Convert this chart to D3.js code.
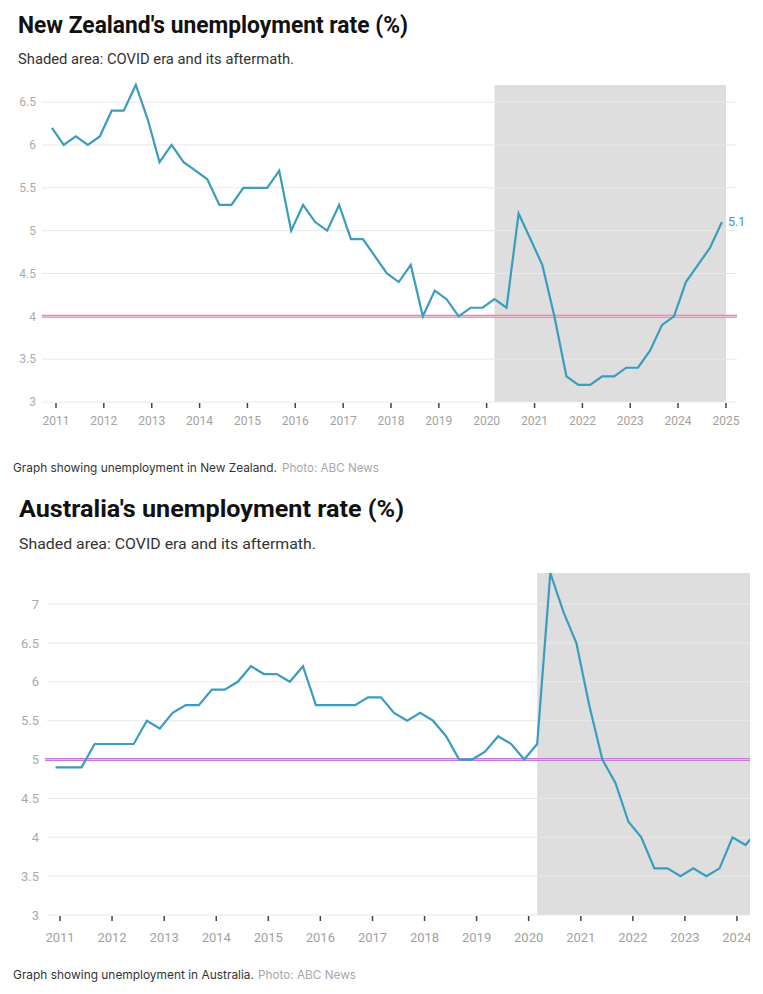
<!DOCTYPE html>
<html>
<head>
<meta charset="utf-8">
<script src="https://cdn.jsdelivr.net/npm/d3@7"></script>
<style>
  html, body { margin: 0; padding: 0; background: #fff; }
  svg { display: block; }
</style>
</head>
<body>
<svg id="chart" width="763" height="994"></svg>
<script>
// ---------- DATA ----------
// Quarterly dates: first quarter is Dec 2010, then Mar/Jun/Sep/Dec
const nzStart = [2010, 12];
const nzValues = [
  6.2,
  6.0, 6.1, 6.0, 6.1,
  6.4, 6.4, 6.7, 6.3,
  5.8, 6.0, 5.8, 5.7,
  5.6, 5.3, 5.3, 5.5,
  5.5, 5.5, 5.7, 5.0,
  5.3, 5.1, 5.0, 5.3,
  4.9, 4.9, 4.7, 4.5,
  4.4, 4.6, 4.0, 4.3,
  4.2, 4.0, 4.1, 4.1,
  4.2, 4.1, 5.2, 4.9,
  4.6, 4.0, 3.3, 3.2,
  3.2, 3.3, 3.3, 3.4,
  3.4, 3.6, 3.9, 4.0,
  4.4, 4.6, 4.8, 5.1
];
const auStart = [2010, 12];
const auValues = [
  4.9,
  4.9, 4.9, 5.2, 5.2,
  5.2, 5.2, 5.5, 5.4,
  5.6, 5.7, 5.7, 5.9,
  5.9, 6.0, 6.2, 6.1,
  6.1, 6.0, 6.2, 5.7,
  5.7, 5.7, 5.7, 5.8,
  5.8, 5.6, 5.5, 5.6,
  5.5, 5.3, 5.0, 5.0,
  5.1, 5.3, 5.2, 5.0,
  5.2, 7.4, 6.9, 6.5,
  5.7, 5.0, 4.7, 4.2,
  4.0, 3.6, 3.6, 3.5,
  3.6, 3.5, 3.6, 4.0,
  3.9, 4.1
];
const nzYTicks = [3, 3.5, 4, 4.5, 5, 5.5, 6, 6.5];
const auYTicks = [3, 3.5, 4, 4.5, 5, 5.5, 6, 6.5, 7];
const nzYears = [2011, 2012, 2013, 2014, 2015, 2016, 2017, 2018, 2019, 2020, 2021, 2022, 2023, 2024, 2025];
const auYears = [2011, 2012, 2013, 2014, 2015, 2016, 2017, 2018, 2019, 2020, 2021, 2022, 2023, 2024];
const nzXDomain = [2011, 2025];
const auXDomain = [2011, 2025];
const nzTarget = 4;
const auTarget = 5;
const covidStart = [2020, 3];
const covidEnd = [2025, 1];

function quarterly(start, values) {
  return values.map((v, i) => {
    const m = (start[1] - 1) + i * 3;
    return { date: new Date(start[0], m, 1), value: v };
  });
}

const svg = d3.select("#chart");
const FONT = "Roboto, 'Noto Sans', sans-serif";

function drawChart(cfg) {
  const g = svg.append("g");
  const clipId = cfg.id + "-clip";
  svg.append("defs").append("clipPath").attr("id", clipId)
    .append("rect").attr("x", 0).attr("y", cfg.top - 20).attr("width", cfg.clipRight).attr("height", cfg.bottom - cfg.top + 60);

  // titles
  g.append("text").attr("x", cfg.titleX).attr("y", cfg.titleY)
    .attr("font-family", FONT).attr("font-weight", 700).attr("font-size", cfg.titleSize)
    .attr("textLength", cfg.titleLen).attr("lengthAdjust", "spacingAndGlyphs")
    .attr("fill", "#111").text(cfg.title);
  g.append("text").attr("x", cfg.titleX).attr("y", cfg.subY)
    .attr("font-family", FONT).attr("font-size", cfg.subSize)
    .attr("textLength", cfg.subLen).attr("lengthAdjust", "spacingAndGlyphs")
    .attr("fill", "#333").text("Shaded area: COVID era and its aftermath.");

  const x = d3.scaleTime()
    .domain([new Date(cfg.xDomain[0], 0, 1), new Date(cfg.xDomain[1], 0, 1)])
    .range([cfg.x0, cfg.x1]);
  const y = d3.scaleLinear().domain(cfg.yDomain).range([cfg.bottom, cfg.top]);

  const plot = g.append("g").attr("clip-path", `url(#${clipId})`);

  // shaded area
  plot.append("rect")
    .attr("x", x(new Date(covidStart[0], covidStart[1] - 1, 1)))
    .attr("y", y(cfg.yDomain[1]))
    .attr("width", x(new Date(covidEnd[0], covidEnd[1] - 1, 1)) - x(new Date(covidStart[0], covidStart[1] - 1, 1)))
    .attr("height", y(cfg.yDomain[0]) - y(cfg.yDomain[1]))
    .attr("fill", "#dedede");

  // gridlines
  plot.append("g").selectAll("line").data(cfg.yTicks).join("line")
    .attr("x1", cfg.gridLeft).attr("x2", cfg.gridRight)
    .attr("y1", d => y(d)).attr("y2", d => y(d))
    .attr("stroke", "#e9e9e9").attr("stroke-width", 1);

  // y labels
  g.append("g").selectAll("text").data(cfg.yTicks).join("text")
    .attr("x", cfg.yLabelX).attr("y", d => y(d)).attr("dy", "0.35em")
    .attr("text-anchor", "end")
    .attr("font-family", FONT).attr("font-size", cfg.tickSize)
    .attr("fill", "#ababab").text(d => d3.format("")(d));

  // x axis ticks + labels
  const xt = g.append("g").attr("clip-path", `url(#${clipId})`);
  xt.selectAll("line").data(cfg.years).join("line")
    .attr("x1", d => x(new Date(d, 0, 1))).attr("x2", d => x(new Date(d, 0, 1)))
    .attr("y1", cfg.bottom + 1).attr("y2", cfg.bottom + 6)
    .attr("stroke", "#444").attr("stroke-width", 1.5);
  xt.selectAll("text").data(cfg.years).join("text")
    .attr("x", d => x(new Date(d, 0, 1))).attr("y", cfg.xLabelY)
    .attr("text-anchor", "middle")
    .attr("font-family", FONT).attr("font-size", cfg.tickSize)
    .attr("fill", "#a2a2a2").text(d => d);

  // target line
  plot.append("line")
    .attr("x1", cfg.refLeft).attr("x2", cfg.refRight)
    .attr("y1", y(cfg.target)).attr("y2", y(cfg.target))
    .attr("stroke", cfg.refColor).attr("stroke-width", 3);
  plot.append("line")
    .attr("x1", cfg.refLeft).attr("x2", cfg.refRight)
    .attr("y1", y(cfg.target)).attr("y2", y(cfg.target))
    .attr("stroke", cfg.refInner).attr("stroke-width", 1);

  // data line
  const line = d3.line().x(d => x(d.date)).y(d => y(d.value));
  plot.append("path").datum(cfg.data)
    .attr("d", line).attr("fill", "none")
    .attr("stroke", "#3a9dbf").attr("stroke-width", 2.2)
    .attr("stroke-linejoin", "miter").attr("stroke-linecap", "butt");

  if (cfg.endLabel) {
    const last = cfg.data[cfg.data.length - 1];
    g.append("text").attr("x", x(last.date) + 6).attr("y", y(last.value)).attr("dy", "0.35em")
      .attr("font-family", FONT).attr("font-size", 12.5)
      .attr("fill", "#3a9dbf").text(last.value);
  }

  // caption (two separate texts)
  const CAPFONT = "Inter, 'Noto Sans', sans-serif";
  g.append("text").attr("x", 13).attr("y", cfg.captionY)
    .attr("font-family", CAPFONT).attr("font-size", 12)
    .attr("textLength", cfg.captionLen).attr("lengthAdjust", "spacingAndGlyphs")
    .attr("fill", "#333").text(cfg.caption);
  g.append("text").attr("x", cfg.creditX).attr("y", cfg.captionY)
    .attr("font-family", CAPFONT).attr("font-size", 12)
    .attr("textLength", cfg.creditLen).attr("lengthAdjust", "spacingAndGlyphs")
    .attr("fill", "#a8a8a8").text("Photo: ABC News");
}

drawChart({
  id: "nz",
  title: "New Zealand's unemployment rate (%)",
  titleX: 18, titleY: 33, subY: 64, titleSize: 23.5, subSize: 14.5,
  titleLen: 390, subLen: 276,
  years: nzYears, xDomain: nzXDomain, x0: 56, x1: 726,
  yDomain: [3, 6.7], top: 85, bottom: 402,
  yTicks: nzYTicks, gridLeft: 42, gridRight: 737, yLabelX: 36,
  tickSize: 12, xLabelY: 425,
  target: nzTarget, refLeft: 42, refRight: 737, refColor: "#e37aa9", refInner: "#f6d2e2",
  data: quarterly(nzStart, nzValues), endLabel: true,
  clipRight: 763,
  caption: "Graph showing unemployment in New Zealand.", captionY: 472, captionLen: 264,
  creditX: 282, creditLen: 97
});

drawChart({
  id: "au",
  title: "Australia's unemployment rate (%)",
  titleX: 19, titleY: 517, subY: 549, titleSize: 24.5, subSize: 15.5,
  titleLen: 385, subLen: 297,
  years: auYears, xDomain: auXDomain, x0: 60, x1: 60 + 14 * 52.08,
  yDomain: [3, 7.4], top: 573, bottom: 915,
  yTicks: auYTicks, gridLeft: 47, gridRight: 763, yLabelX: 39,
  tickSize: 13, xLabelY: 942,
  target: auTarget, refLeft: 45, refRight: 763, refColor: "#c678d8", refInner: "#ebb6f0",
  data: quarterly(auStart, auValues), endLabel: false,
  clipRight: 750,
  caption: "Graph showing unemployment in Australia.", captionY: 979, captionLen: 241,
  creditX: 258, creditLen: 98
});
</script>
</body>
</html>
